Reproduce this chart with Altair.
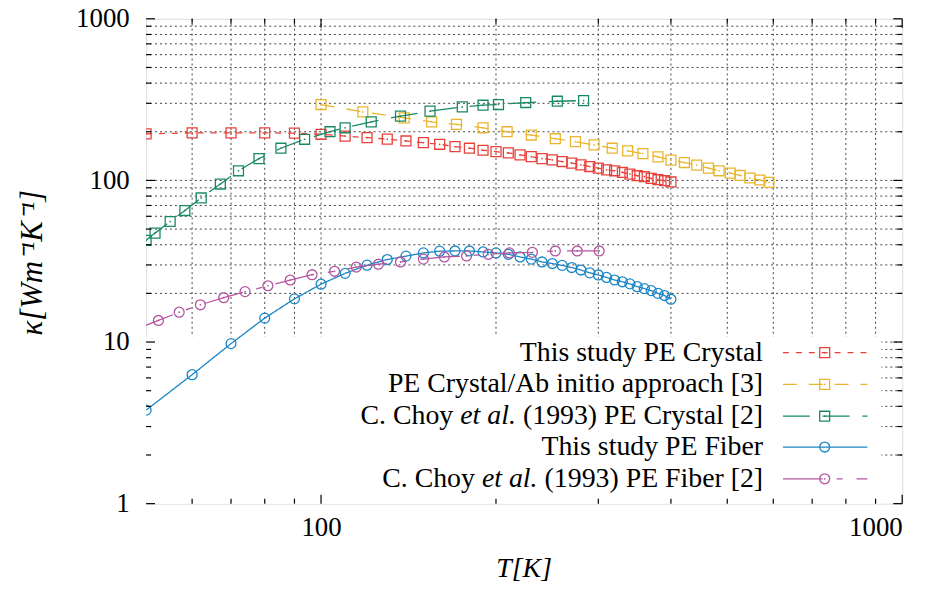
import altair as alt
import pandas as pd

# ---------------- data ----------------
T_study = [50, 60, 70, 80, 90, 100, 110, 120, 130, 140, 150, 160, 170, 180, 190,
           200, 210, 220, 230, 240, 250, 260, 270, 280, 290, 300, 310, 320, 330,
           340, 350, 360, 370, 380, 390, 400]
k_crystal = [194, 197, 197, 197, 196, 193, 188, 184, 180, 175.4, 171.2, 167.3,
             161.8, 158.2, 153.7, 150.7, 148, 143.9, 140.4, 136.5, 134, 130.9,
             127.9, 124.9, 121.9, 119.1, 116.3, 114.7, 112, 109.4, 106.9, 105.4,
             102.9, 101, 99.6, 97.8]
k_fiber = [3.79, 6.28, 9.78, 14.06, 18.5, 22.8, 26.6, 29.9, 32.4, 34.0, 35.6,
           36.5, 36.6, 36.6, 36.1, 35.6, 34.9, 33.6, 32.6, 31.3, 30.6, 29.8, 28.9,
           27.9, 26.8, 26.0, 25.1, 24.2, 23.6, 22.9, 22.0, 21.4, 20.8, 20.0, 19.4,
           18.4]

T_abinitio = [100, 118, 139, 155, 171, 190, 209, 230, 253, 274, 295, 317, 337,
              358, 380, 400, 422, 443, 464, 484, 506, 526, 547, 569, 590]
k_abinitio = [294.9, 265.5, 243.9, 230.5, 222.2, 211.7, 200.1, 190.9, 181.2,
              173.7, 165.8, 158.2, 152.2, 146.5, 139.9, 133.5, 129.0, 124.4,
              119.2, 114.7, 111.0, 107.3, 103.5, 100.6, 97.2]

T_choy_crystal = [50, 51.8, 55, 58.3, 62.2, 67.1, 72.1, 78.2, 85.3, 93.7, 103.6,
                  110, 122, 137, 154, 175, 190, 202, 225, 255, 283]
k_choy_crystal = [42.6, 47.2, 55.7, 65.1, 77.9, 95.0, 114.7, 136.5, 158.2, 179.7,
                  200.1, 211.7, 230.5, 249.9, 268.2, 285, 292, 294.9, 303.3, 309,
                  312]

T_choy_fiber = [48, 52.5, 57, 62, 68, 74, 81, 88.5, 96.5, 105.5, 115, 125.5, 137,
                150, 163, 178, 194, 211, 231, 253, 276, 301]
k_choy_fiber = [12.0, 13.6, 15.3, 17.0, 18.8, 20.5, 22.3, 24.2, 26.1, 27.4, 29.1,
                30.3, 31.3, 32.6, 33.6, 34.1, 34.9, 35.6, 35.9, 36.6, 36.6, 36.6]

# legend label pieces: (before italic, italic, after italic)
labels = [
    ("This study PE Crystal", "", ""),
    ("PE Crystal/Ab initio approach [3]", "", ""),
    ("C. Choy", "et al.", " (1993) PE Crystal [2]"),
    ("This study PE Fiber", "", ""),
    ("C. Choy", "et al.", " (1993) PE Fiber [2]"),
]

x_major = [100, 1000]
x_minor = [60, 70, 80, 90, 200, 300, 400, 500, 600, 700, 800, 900]
y_major = [1, 10, 100, 1000]
y_minor = [2, 3, 4, 5, 6, 7, 8, 9, 20, 30, 40, 50, 60, 70, 80, 90,
           200, 300, 400, 500, 600, 700, 800, 900]
x_grid = [60, 70, 80, 90, 100, 200, 300, 400, 500, 600, 700, 800, 900]
y_grid = [2, 3, 4, 5, 6, 7, 8, 9, 10, 20, 30, 40, 50, 60, 70, 80, 90, 100,
          200, 300, 400, 500, 600, 700, 800, 900]

# ---------------- styles ----------------
colors = ["#e8403a", "#e9b52c", "#188a60", "#1a86c6", "#b3569f"]
dashes = [[6, 7], [14, 12], [27, 13], [1, 0], [40, 14, 6, 14]]
shapes = ["square", "square", "square", "circle", "circle"]
center_dot = [True, True, True, False, True]

FONT = "Liberation Serif"
W, H = 761, 488

xs = alt.Scale(type="log", domain=[50, 1000], nice=False)
ys = alt.Scale(type="log", domain=[1, 1000], nice=False)

xaxis = alt.Axis(values=x_major, format="d", ticks=False, grid=False, domain=False,
                 labelFont=FONT, labelFontSize=27, labelColor="black",
                 labelPadding=11, title="T[K]", titleFont=FONT, titleFontSize=28,
                 titleFontStyle="italic", titleFontWeight="normal", titleColor="black",
                 titleX=380, titleY=73, titleBaseline="alphabetic", titleAlign="center")
yaxis = alt.Axis(values=y_major, format="d", ticks=False, grid=False, domain=False,
                 labelFont=FONT, labelFontSize=27, labelColor="black",
                 labelPadding=17, title="κ[Wm⁻¹K⁻¹]", titleFont=FONT,
                 titleFontSize=31, titleFontStyle="italic", titleFontWeight="normal",
                 titleColor="black", titleX=-114, titleY=245, titleAngle=270,
                 titleBaseline="middle", titleAlign="center")


def X(f):
    return alt.X(f, type="quantitative", scale=xs, axis=xaxis)


def Y(f):
    return alt.Y(f, type="quantitative", scale=ys, axis=yaxis)


layers = []

# grid
gx = pd.DataFrame({"v": x_grid})
gy = pd.DataFrame({"v": y_grid})
layers.append(alt.Chart(gx).mark_rule(color="#444", strokeDash=[2, 3], strokeWidth=1)
              .encode(x=X("v")))
layers.append(alt.Chart(gy).mark_rule(color="#444", strokeDash=[2, 3], strokeWidth=1)
              .encode(y=Y("v")))

# opaque key box
layers.append(alt.Chart(pd.DataFrame({"a": [0]})).mark_rect(color="white")
              .encode(x=alt.value(0), x2=alt.value(740), y=alt.value(320),
                      y2=alt.value(H)))

series = [
    (T_study, k_crystal),
    (T_abinitio, k_abinitio),
    (T_choy_crystal, k_choy_crystal),
    (T_study, k_fiber),
    (T_choy_fiber, k_choy_fiber),
]

for i, (tv, kv) in enumerate(series):
    df = pd.DataFrame({"T": tv, "k": kv})
    base = alt.Chart(df)
    layers.append(base.mark_line(color=colors[i], strokeDash=dashes[i],
                                 strokeWidth=1.3, clip=True)
                  .encode(x=X("T"), y=Y("k")))
    layers.append(base.mark_point(shape=shapes[i], filled=False, stroke=colors[i],
                                  strokeWidth=1.3, size=100, opacity=1, clip=True)
                  .encode(x=X("T"), y=Y("k")))
    if center_dot[i]:
        layers.append(base.mark_point(shape="circle", filled=True, color=colors[i],
                                      size=3, opacity=1, clip=True)
                      .encode(x=X("T"), y=Y("k")))

# inside ticks on all four sides
for vals, L in [(x_major, 9), (x_minor, 5)]:
    d = pd.DataFrame({"v": vals})
    layers.append(alt.Chart(d).mark_rule(color="black", strokeWidth=1.2)
                  .encode(x=X("v"), y=alt.value(H), y2=alt.value(H - L)))
    layers.append(alt.Chart(d).mark_rule(color="black", strokeWidth=1.2)
                  .encode(x=X("v"), y=alt.value(0), y2=alt.value(L)))
for vals, L in [(y_major, 9), (y_minor, 5)]:
    d = pd.DataFrame({"v": vals})
    layers.append(alt.Chart(d).mark_rule(color="black", strokeWidth=1.2)
                  .encode(y=Y("v"), x=alt.value(0), x2=alt.value(L)))
    layers.append(alt.Chart(d).mark_rule(color="black", strokeWidth=1.2)
                  .encode(y=Y("v"), x=alt.value(W), x2=alt.value(W - L)))

# key (gnuplot style: label on the left, sample on the right)
LS = 28
TEXT_RIGHT = 621
row_y = [336, 368, 400, 431, 463]
# Liberation Serif is metric-compatible with Times New Roman
reg_w = {" ": 250, "(": 333, ")": 333, "[": 333, "]": 333, "P": 556, "E": 611,
         "C": 667, "r": 333, "y": 500, "s": 389, "t": 278, "a": 444, "l": 278,
         "F": 556, "i": 278, "b": 500, "e": 444}
ital_w = {"e": 444, "t": 278, " ": 250, "a": 500, "l": 278, ".": 250}


def tw(s, table):
    return sum(table.get(c, 500) for c in s) * LS / 1000.0


one = pd.DataFrame({"a": [0]})
for i, (p1, p2, p3) in enumerate(labels):
    yy = row_y[i]
    if p2:
        w3 = tw(p3, reg_w)
        w2 = tw(p2, ital_w)
        wsp = tw(" ", reg_w)
        layers.append(alt.Chart(one).mark_text(text=p3.strip(), font=FONT, fontSize=LS,
                                               align="right", baseline="middle",
                                               color="black")
                      .encode(x=alt.value(TEXT_RIGHT), y=alt.value(yy)))
        layers.append(alt.Chart(one).mark_text(text=p2, font=FONT, fontSize=LS,
                                               fontStyle="italic", align="right",
                                               baseline="middle", color="black")
                      .encode(x=alt.value(TEXT_RIGHT - w3), y=alt.value(yy)))
        layers.append(alt.Chart(one).mark_text(text=p1, font=FONT, fontSize=LS,
                                               align="right", baseline="middle",
                                               color="black")
                      .encode(x=alt.value(TEXT_RIGHT - w3 - w2 - wsp),
                              y=alt.value(yy)))
    else:
        layers.append(alt.Chart(one).mark_text(text=p1, font=FONT, fontSize=LS,
                                               align="right", baseline="middle",
                                               color="black")
                      .encode(x=alt.value(TEXT_RIGHT), y=alt.value(yy)))
    layers.append(alt.Chart(one).mark_rule(color=colors[i], strokeDash=dashes[i],
                                           strokeWidth=1.3)
                  .encode(x=alt.value(641), x2=alt.value(726), y=alt.value(yy)))
    layers.append(alt.Chart(one).mark_point(shape=shapes[i], filled=False,
                                            stroke=colors[i], strokeWidth=1.3,
                                            size=100, opacity=1)
                  .encode(x=alt.value(683), y=alt.value(yy)))
    if center_dot[i]:
        layers.append(alt.Chart(one).mark_point(shape="circle", filled=True,
                                                color=colors[i], size=3, opacity=1)
                      .encode(x=alt.value(683), y=alt.value(yy)))

chart = alt.layer(*layers).properties(
    width=W, height=H,
    autosize=alt.AutoSizeParams(type="none"),
    padding={"left": 139, "top": 9, "right": 30, "bottom": 80},
).configure_view(stroke="#111", strokeWidth=1.5).configure(background="white")

chart.save("out.html", embed_options={"renderer": "svg", "actions": False})
